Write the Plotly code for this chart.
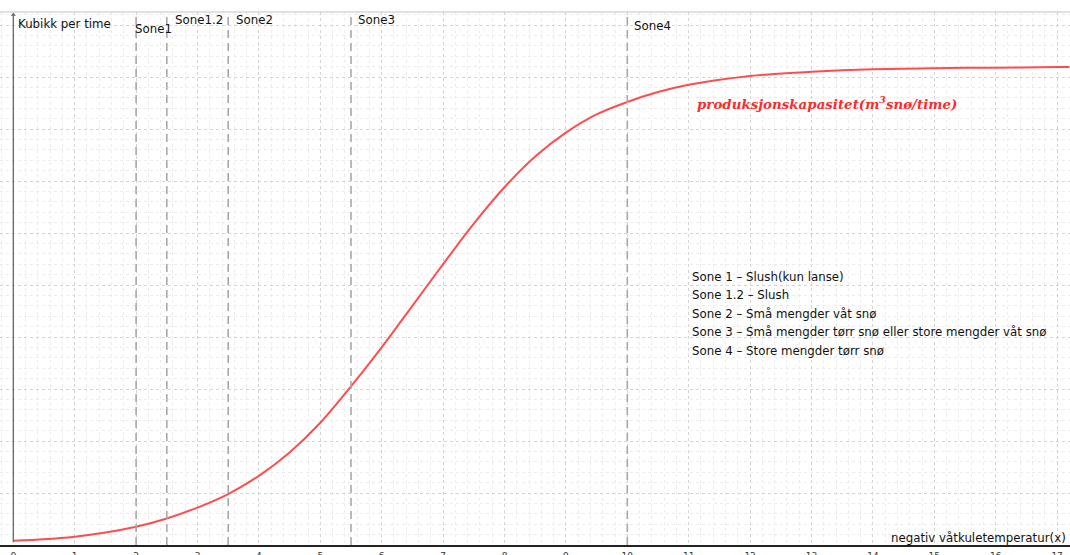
import plotly.graph_objects as go

# Curve values (y in grid units)
curve_x = [0, 0.5, 1, 1.5, 2, 2.5, 3, 3.5, 4, 4.5, 5, 5.5, 6, 6.5, 7, 7.5, 8, 8.5, 9, 9.5, 10, 10.5, 11, 12, 13, 14, 15, 16, 17, 17.2]
curve_y = [0.08, 0.11, 0.16, 0.24, 0.35, 0.51, 0.72, 0.98, 1.33, 1.78, 2.35, 3.05, 3.8, 4.6, 5.4, 6.18, 6.88, 7.47, 7.93, 8.28, 8.52, 8.71, 8.85, 9.02, 9.1, 9.15, 9.17, 9.18, 9.19, 9.19]

zone_x = [2, 2.5, 3.5, 5.5, 10]
zone_labels = ["Sone1", "Sone1.2", "Sone2", "Sone3", "Sone4"]
zone_label_x = [1.95, 2.6, 3.6, 5.58, 10.08]
zone_label_y = [9.92, 10.1, 10.1, 10.1, 9.98]

x_ticks = list(range(0, 18))

legend_lines = [
    "Sone 1 – Slush(kun lanse)",
    "Sone 1.2 – Slush",
    "Sone 2 – Små mengder våt snø",
    "Sone 3 – Små mengder tørr snø eller store mengder våt snø",
    "Sone 4 – Store mengder tørr snø",
]
legend_y = [5.15, 4.8, 4.44, 4.09, 3.74]

curve_label = "<b><i>produksjonskapasitet(m<sup>3</sup>snø/time)</i></b>"
y_title = "Kubikk per time"
x_title = "negativ våtkuletemperatur(x)"

PX = 61.4
X0 = 13.3
W, H = 1070, 555
YTOP = 10.25
TXT = dict(family="DejaVu Sans", size=11.8, color="#111111")

fig = go.Figure()
fig.add_trace(go.Scatter(x=curve_x, y=curve_y, mode="lines",
                         line=dict(color="#ff4d4d", width=2, shape="spline", smoothing=0.8),
                         hoverinfo="skip", showlegend=False))

shapes = []
for zx in zone_x:
    shapes.append(dict(type="line", xref="x", yref="y", x0=zx, x1=zx, y0=0, y1=YTOP,
                       line=dict(color="#a8a8a8", width=1.6, dash="8px,5px")))
# top frame line
shapes.append(dict(type="line", xref="paper", yref="paper", x0=0, x1=1, y0=1, y1=1,
                   line=dict(color="#c4c4c4", width=1.2)))

annotations = []
# y axis with arrow
annotations.append(dict(x=0, y=YTOP - 0.02, ax=0, ay=0, xref="x", yref="y", axref="x", ayref="y",
                        showarrow=True, arrowhead=1, arrowsize=0.7, arrowwidth=1.3,
                        arrowcolor="#666666", text=" ", font=dict(size=2)))
for lab, lx, ly in zip(zone_labels, zone_label_x, zone_label_y):
    annotations.append(dict(x=lx, y=ly, xref="x", yref="y", text=lab, showarrow=False,
                            xanchor="left", yanchor="middle", font=TXT))
for line, ly in zip(legend_lines, legend_y):
    annotations.append(dict(x=11.02, y=ly, xref="x", yref="y", text=line, showarrow=False,
                            xanchor="left", yanchor="middle", font=TXT))
annotations.append(dict(x=11.1, y=8.5, xref="x", yref="y", text=curve_label, showarrow=False,
                        xanchor="left", yanchor="middle",
                        font=dict(family="DejaVu Serif", size=13.4, color="#ff2a2a")))
annotations.append(dict(x=0.04, y=10.02, xref="x", yref="y", text=y_title, showarrow=False,
                        xanchor="left", yanchor="middle", font=TXT))
annotations.append(dict(x=17.17, y=0.13, xref="x", yref="y", text=x_title, showarrow=False,
                        xanchor="right", yanchor="middle", font=TXT))

fig.update_layout(
    width=W, height=H,
    margin=dict(l=0, r=0, t=12, b=10, autoexpand=False),
    paper_bgcolor="white", plot_bgcolor="white",
    shapes=shapes, annotations=annotations,
    showlegend=False,
    xaxis=dict(range=[-X0 / PX, (W - X0) / PX], tickvals=x_ticks, ticktext=[str(t) for t in x_ticks],
               showline=True, linecolor="#222222", linewidth=1.5,
               showgrid=True, gridcolor="#d4d4d4", griddash="dot", gridwidth=1,
               minor=dict(dtick=0.2, showgrid=True, gridcolor="#ececec", griddash="dot", gridwidth=1),
               zeroline=False, ticks="", ticklabelstandoff=1, automargin=False,
               tickfont=dict(family="DejaVu Sans", size=9, color="#333333"),
               fixedrange=True),
    yaxis=dict(range=[0, YTOP], dtick=1, showticklabels=False, showline=False,
               showgrid=True, gridcolor="#d4d4d4", griddash="dot", gridwidth=1,
               minor=dict(dtick=0.2, showgrid=True, gridcolor="#ececec", griddash="dot", gridwidth=1),
               zeroline=False, ticks="", fixedrange=True, automargin=False),
)

fig.write_html("out.html", config={"displayModeBar": False},
               post_script="document.body.style.margin='0';document.body.style.overflow='hidden';")
